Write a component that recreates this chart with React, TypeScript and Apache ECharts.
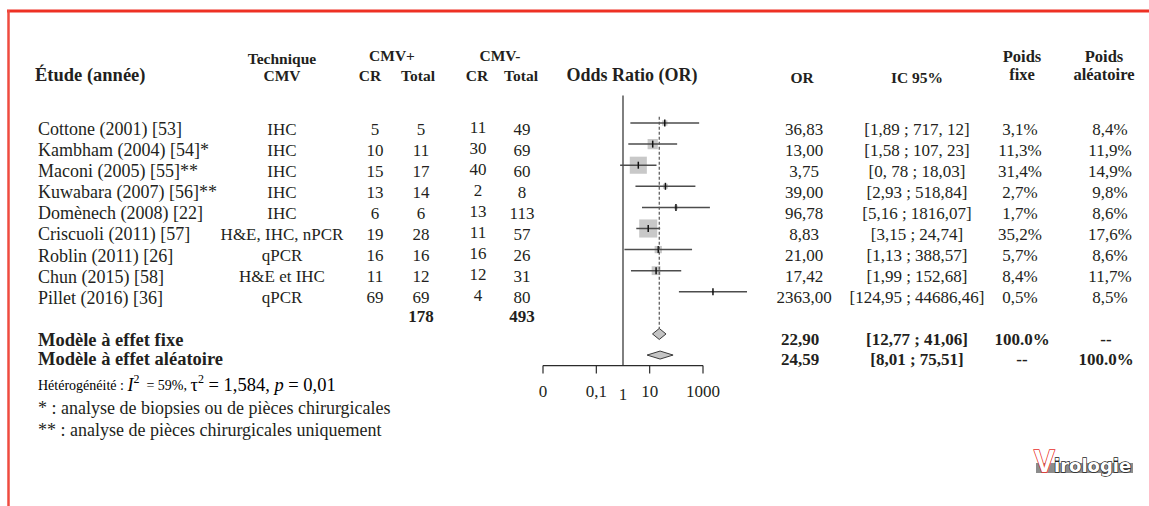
import React, { useEffect, useRef } from "react";
import * as echarts from "echarts";

// ---------- data ----------
const studies = [
  "Cottone (2001) [53]",
  "Kambham (2004) [54]*",
  "Maconi (2005) [55]**",
  "Kuwabara (2007) [56]**",
  "Domènech (2008) [22]",
  "Criscuoli (2011) [57]",
  "Roblin (2011) [26]",
  "Chun (2015) [58]",
  "Pillet (2016) [36]",
];
const techniques = ["IHC", "IHC", "IHC", "IHC", "IHC", "H&E, IHC, nPCR", "qPCR", "H&E et IHC", "qPCR"];
const cmvPosCR = [5, 10, 15, 13, 6, 19, 16, 11, 69];
const cmvPosTotal = [5, 11, 17, 14, 6, 28, 16, 12, 69];
const cmvNegCR = [11, 30, 40, 2, 13, 11, 16, 12, 4];
const cmvNegTotal = [49, 69, 60, 8, 113, 57, 26, 31, 80];
const orValues = [36.83, 13.0, 3.75, 39.0, 96.78, 8.83, 21.0, 17.42, 2363.0];
const ciLow = [1.89, 1.58, 0.78, 2.93, 5.16, 3.15, 1.13, 1.99, 124.95];
const ciHigh = [717.12, 107.23, 18.03, 518.84, 1816.07, 24.74, 388.57, 152.68, 44686.46];
const ciLabels = [
  "[1,89 ; 717, 12]",
  "[1,58 ; 107, 23]",
  "[0, 78 ; 18,03]",
  "[2,93 ; 518,84]",
  "[5,16 ; 1816,07]",
  "[3,15 ; 24,74]",
  "[1,13 ; 388,57]",
  "[1,99 ; 152,68]",
  "[124,95 ; 44686,46]",
];
const weightFixed = [3.1, 11.3, 31.4, 2.7, 1.7, 35.2, 5.7, 8.4, 0.5];
const weightRandom = [8.4, 11.9, 14.9, 9.8, 8.6, 17.6, 8.6, 11.7, 8.5];

const summaryLabels = ["Modèle à effet fixe", "Modèle à effet aléatoire"];
const summaryOR = [22.9, 24.59];
const summaryLow = [12.77, 8.01];
const summaryHigh = [41.06, 75.51];
const summaryCI = ["[12,77 ; 41,06]", "[8,01 ; 75,51]"];
const summaryFixedW = ["100.0%", "--"];
const summaryRandomW = ["--", "100.0%"];

const axisTickValues = [0.001, 0.1, 10, 1000];
const axisLabelValues = [0.001, 0.1, 1, 10, 1000];
const axisLabelTexts = ["0", "0,1", "1", "10", "1000"];

// ---------- helpers ----------
const SERIF = '"Liberation Serif", "Times New Roman", serif';
const INK = "#231f20";
const fmt2 = (v: number) => v.toFixed(2).replace(".", ",");
const fmtPct = (v: number) => v.toFixed(1).replace(".", ",") + "%";
const sum = (a: number[]) => a.reduce((s, v) => s + v, 0);

const COL = {
  name: 38,
  tech: 282,
  crP: 375,
  totP: 421,
  crN: 478,
  totN: 522,
  or: 804,
  ic: 917,
  wf: 1020,
  wr: 1110,
};

function txt(text: string, x: number, y: number, size = 17, weight = "normal", align = "center", extra: any = {}) {
  return {
    type: "text",
    x,
    y,
    silent: true,
    style: {
      text,
      fill: INK,
      font: `${weight} ${size}px ${SERIF}`,
      align,
      verticalAlign: "middle",
      ...extra,
    },
  };
}

export default function App() {
  const ref = useRef<HTMLDivElement>(null);

  useEffect(() => {
    if (!ref.current) return;
    const chart = echarts.init(ref.current, undefined, { renderer: "svg" });

    const studyData = studies.map((_, i) => [orValues[i], i, ciLow[i], ciHigh[i], weightFixed[i]]);
    const summaryData = summaryOR.map((v, i) => [v, 10 + i, summaryLow[i], summaryHigh[i]]);

    const option: any = {
      animation: false,
      backgroundColor: "#ffffff",
      grid: { left: 543, right: 446, top: 95.6, bottom: 140.4, containLabel: false },
      xAxis: {
        type: "log",
        logBase: 10,
        min: 0.001,
        max: 1000,
        show: false,
        splitLine: { show: false },
      },
      yAxis: {
        type: "value",
        inverse: true,
        min: -1.3,
        max: 11.5,
        show: false,
        splitLine: { show: false },
      },
      series: [
        // reference vertical line at OR = 1
        {
          type: "custom",
          clip: false,
          silent: true,
          data: [[1]],
          renderItem: (_p: any, api: any) => {
            const top = api.coord([1, -1.3]);
            const bot = api.coord([1, 11.5]);
            return {
              type: "line",
              shape: { x1: top[0], y1: top[1], x2: bot[0], y2: bot[1] },
              style: { stroke: "#2b2b2b", lineWidth: 1.2 },
            };
          },
        },
        // studies
        {
          type: "custom",
          clip: false,
          silent: true,
          encode: { x: 0, y: 1 },
          data: studyData,
          renderItem: (params: any, api: any) => {
            const i = params.dataIndex;
            const c = api.coord([api.value(0), api.value(1)]);
            const lo = api.coord([api.value(2), api.value(1)]);
            const hi = api.coord([api.value(3), api.value(1)]);
            const side = 3.05 * Math.sqrt(api.value(4));
            const y = c[1];
            const ty = y + 6;
            return {
              type: "group",
              children: [
                {
                  type: "rect",
                  shape: { x: c[0] - side / 2, y: y - side / 2, width: side, height: side },
                  style: { fill: "#c8c8c8" },
                },
                {
                  type: "line",
                  shape: { x1: lo[0], y1: y, x2: hi[0], y2: y },
                  style: { stroke: "#4d4d4d", lineWidth: 1.5 },
                },
                {
                  type: "line",
                  shape: { x1: c[0], y1: y - 3.5, x2: c[0], y2: y + 3.5 },
                  style: { stroke: "#111", lineWidth: 1.5 },
                },
                txt(studies[i], COL.name, ty, 18, "normal", "left"),
                txt(techniques[i], COL.tech, ty),
                txt(String(cmvPosCR[i]), COL.crP, ty),
                txt(String(cmvPosTotal[i]), COL.totP, ty),
                txt(String(cmvNegCR[i]), COL.crN, ty - 2),
                txt(String(cmvNegTotal[i]), COL.totN, ty),
                txt(fmt2(orValues[i]), COL.or, ty),
                txt(ciLabels[i], COL.ic, ty),
                txt(fmtPct(weightFixed[i]), COL.wf, ty),
                txt(fmtPct(weightRandom[i]), COL.wr, ty),
              ],
            };
          },
        },
        // totals row
        {
          type: "custom",
          clip: false,
          silent: true,
          data: [[1, 9.15]],
          renderItem: (_p: any, api: any) => {
            const y = api.coord([1, api.value(1)])[1];
            return {
              type: "group",
              children: [
                txt(String(sum(cmvPosTotal)), COL.totP, y, 17, "bold"),
                txt(String(sum(cmvNegTotal)), COL.totN, y, 17, "bold"),
              ],
            };
          },
        },
        // summary diamonds
        {
          type: "custom",
          clip: false,
          silent: true,
          encode: { x: 0, y: 1 },
          data: summaryData,
          renderItem: (params: any, api: any) => {
            const i = params.dataIndex;
            const c = api.coord([api.value(0), api.value(1)]);
            const lo = api.coord([api.value(2), api.value(1)]);
            const hi = api.coord([api.value(3), api.value(1)]);
            const h = i === 0 ? 11 : 8;
            const y = c[1];
            const ty = y + (i === 0 ? 6 : 4);
            const children: any[] = [];
            if (i === 0) {
              const top = api.coord([api.value(0), -0.3]);
              children.push({
                type: "line",
                shape: { x1: c[0], y1: top[1], x2: c[0], y2: y - h / 2 },
                style: { stroke: "#555", lineWidth: 1.2, lineDash: [3, 2] },
              });
            }
            children.push(
              {
                type: "polygon",
                shape: {
                  points: [
                    [lo[0], y],
                    [c[0], y - h / 2],
                    [hi[0], y],
                    [c[0], y + h / 2],
                  ],
                },
                style: { fill: "#c4c4c4", stroke: "#3a3a3a", lineWidth: 1 },
              },
              txt(summaryLabels[i], COL.name, ty, 18.5, "bold", "left"),
              txt(fmt2(summaryOR[i]), COL.or - 4, ty, 17, "bold"),
              txt(summaryCI[i], COL.ic, ty, 17, "bold"),
              txt(summaryFixedW[i], COL.wf + 2, ty, 17, "bold"),
              txt(summaryRandomW[i], COL.wr - 4, ty, 17, "bold")
            );
            return { type: "group", children };
          },
        },
        // axis line and ticks
        {
          type: "custom",
          clip: false,
          silent: true,
          data: axisTickValues.map((v) => [v, 11.5]),
          renderItem: (params: any, api: any) => {
            const p = api.coord([api.value(0), api.value(1)]);
            const children: any[] = [
              {
                type: "line",
                shape: { x1: p[0], y1: p[1], x2: p[0], y2: p[1] + 8 },
                style: { stroke: "#2b2b2b", lineWidth: 1.2 },
              },
            ];
            if (params.dataIndex === 0) {
              const a = api.coord([axisTickValues[0], 11.5]);
              const b = api.coord([axisTickValues[axisTickValues.length - 1], 11.5]);
              children.push({
                type: "line",
                shape: { x1: a[0], y1: a[1], x2: b[0], y2: b[1] },
                style: { stroke: "#2b2b2b", lineWidth: 1.2 },
              });
            }
            return { type: "group", children };
          },
        },
        // axis labels
        {
          type: "custom",
          clip: false,
          silent: true,
          data: axisLabelValues.map((v) => [v, 11.5]),
          renderItem: (params: any, api: any) => {
            const p = api.coord([api.value(0), api.value(1)]);
            const isOne = axisLabelValues[params.dataIndex] === 1;
            return txt(axisLabelTexts[params.dataIndex], p[0], p[1] + (isOne ? 29 : 26), 17);
          },
        },
      ],
      graphic: [
        // red frame
        { type: "line", silent: true, shape: { x1: 7, y1: 11, x2: 1149, y2: 11 }, style: { stroke: "#ee3124", lineWidth: 3 } },
        { type: "line", silent: true, shape: { x1: 8.5, y1: 10, x2: 8.5, y2: 506 }, style: { stroke: "#ef4b3f", lineWidth: 2.5 } },
        // headers
        txt("Étude (année)", 35, 75, 18.5, "bold", "left"),
        txt("Technique", 282, 58, 15.5, "bold"),
        txt("CMV", 282, 75, 15.5, "bold"),
        txt("CMV+", 392, 55, 15.5, "bold"),
        txt("CR", 370, 75, 15.5, "bold"),
        txt("Total", 418, 75, 15.5, "bold"),
        txt("CMV-", 500, 55, 15.5, "bold"),
        txt("CR", 477, 75, 15.5, "bold"),
        txt("Total", 521, 75, 15.5, "bold"),
        txt("Odds Ratio (OR)", 632, 75, 18, "bold"),
        txt("OR", 802, 77, 15.5, "bold"),
        txt("IC 95%", 917, 77, 15.5, "bold"),
        txt("Poids", 1022, 56, 16.5, "bold"),
        txt("fixe", 1022, 74, 16.5, "bold"),
        txt("Poids", 1104, 56, 16.5, "bold"),
        txt("aléatoire", 1104, 74, 16.5, "bold"),
        // heterogeneity + footnotes
        {
          type: "text",
          x: 38,
          y: 384,
          silent: true,
          style: {
            text: "{a|Hétérogénéité : }{i|I}{sup|2}{a|  = 59%, }{b|τ}{sup|2}{b| = 1,584, }{bi|p}{b| = 0,01}",
            align: "left",
            verticalAlign: "middle",
            rich: {
              a: { fontFamily: SERIF, fontSize: 14, color: INK, lineHeight: 22, verticalAlign: "bottom", padding: [0, 0, 3, 0] },
              i: { fontFamily: SERIF, fontSize: 18, fontStyle: "italic", color: INK, lineHeight: 22, verticalAlign: "bottom", padding: [0, 0, 1, 0] },
              sup: { fontFamily: SERIF, fontSize: 12, color: INK, verticalAlign: "top" },
              b: { fontFamily: SERIF, fontSize: 18.5, color: INK, lineHeight: 22, verticalAlign: "bottom", padding: [0, 0, 1, 0] },
              bi: { fontFamily: SERIF, fontSize: 18.5, fontStyle: "italic", color: INK, lineHeight: 22, verticalAlign: "bottom", padding: [0, 0, 1, 0] },
            },
          },
        },
        txt("* : analyse de biopsies ou de pièces chirurgicales", 38, 408, 18, "normal", "left"),
        txt("** : analyse de pièces chirurgicales uniquement", 38, 430, 18, "normal", "left"),
        // logo
        { type: "rect", silent: true, shape: { x: 1036, y: 463, width: 97, height: 10 }, style: { fill: "#8c8c8c" } },
        {
          type: "text",
          x: 1034,
          y: 461,
          silent: true,
          style: {
            text: "V",
            font: `bold 31px "Liberation Sans", Arial, sans-serif`,
            fill: "#ffffff",
            stroke: "#e8302a",
            lineWidth: 1.5,
            align: "left",
            verticalAlign: "middle",
          },
        },
        {
          type: "text",
          x: 1054,
          y: 465,
          silent: true,
          style: {
            text: "irologie",
            font: `bold 18px "DejaVu Sans", sans-serif`,
            fill: "#ffffff",
            stroke: "#222222",
            lineWidth: 1.3,
            align: "left",
            verticalAlign: "middle",
          },
        },
      ],
    };

    chart.setOption(option);
    return () => chart.dispose();
  }, []);

  return (
    <div
      ref={ref}
      style={{ position: "fixed", left: 0, top: 0, width: 1149, height: 506, background: "#fff" }}
    />
  );
}
